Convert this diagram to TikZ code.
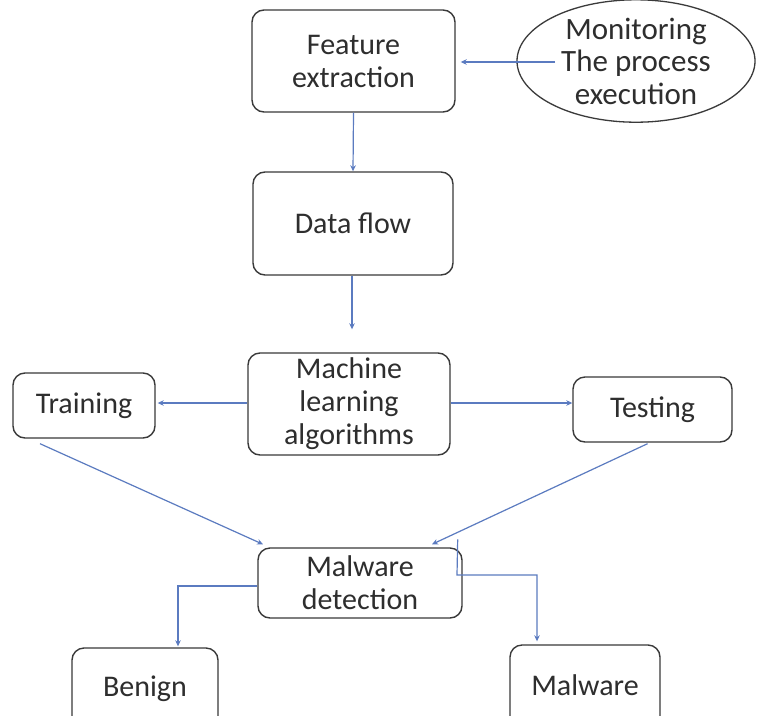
\documentclass[tikz,border=0pt]{standalone}
\usepackage{fontspec}
\setmainfont{Carlito}
\usetikzlibrary{shapes.geometric,arrows.meta,calc}
\definecolor{linkblue}{HTML}{5B7BC0}
\definecolor{boxline}{HTML}{3A3A3A}
\definecolor{txt}{HTML}{2E2E2E}
\begin{document}
\begin{tikzpicture}[x=1pt,y=-1pt,
  box/.style={draw=boxline,line width=1.4pt,rounded corners=12pt,fill=white,
    align=center,text=txt,inner sep=0pt,font=\fontsize{30}{33}\selectfont},
  oval/.style={draw=boxline,line width=1.3pt,ellipse,fill=white,
    align=center,text=txt,inner sep=0pt,font=\fontsize{31}{32.5}\selectfont},
  arr/.style={draw=linkblue,line width=1.2pt,-{Stealth[length=6pt,width=5.5pt]}},
  plain/.style={draw=linkblue,line width=1.2pt}]
\clip (0,0) rectangle (757,715);
\useasboundingbox (0,0) rectangle (757,715);
\fill[white] (0,0) rectangle (757,715);

\node[box,minimum width=203pt,minimum height=102pt] (fe) at (353.5,61) {Feature\\extraction};
\node[oval,minimum width=238pt,minimum height=98pt] (mon) at (636,61) {Monitoring\\The process\\execution};
\node[box,minimum width=200pt,minimum height=103pt] (df) at (353,223.5) {Data flow};
\node[box,minimum width=202pt,minimum height=102pt] (ml) at (349,404) {Machine\\learning\\algorithms};
\node[box,minimum width=142pt,minimum height=65pt] (tr) at (84,405.5) {Training};
\node[box,minimum width=159pt,minimum height=65pt] (te) at (652.5,409.5) {Testing};
\node[box,minimum width=204pt,minimum height=70pt] (md) at (360,583) {Malware\\detection};
\node[box,minimum width=146pt,minimum height=82pt] (be) at (145,689) {\raisebox{6pt}{Benign}};
\node[box,minimum width=150pt,minimum height=85pt] (mw) at (585,687.5) {\raisebox{4pt}{Malware}};

\draw[arr] ([xshift=-81pt,yshift=-1pt]mon.center) -- ([xshift=5pt,yshift=-1pt]fe.east);
\draw[arr] (fe.south) -- (df.north);
\draw[arr] ([xshift=-1pt]df.south) -- ([xshift=3pt,yshift=23pt]ml.north);
\draw[arr] ([yshift=1pt]ml.west) -- ([xshift=2pt,yshift=1pt]ml.west -| tr.east);
\draw[arr] ([yshift=1pt]ml.east) -- ([yshift=1pt]ml.east -| te.west);
\draw[arr] ([xshift=-44pt,yshift=-5pt]tr.south) -- ([xshift=-97pt,yshift=3pt]md.north);
\draw[arr] ([xshift=-5pt,yshift=-1pt]te.south) -- ([xshift=72pt,yshift=3pt]md.north);
\draw[arr] ([yshift=-3pt]md.west) -| ([xshift=33pt,yshift=1pt]be.north);
\coordinate (mdk) at (457,575);
\draw[arr] ([xshift=-5pt,yshift=8pt]md.north east) -- (mdk) -| ([xshift=-48pt,yshift=3pt]mw.north);
\end{tikzpicture}
\end{document}
